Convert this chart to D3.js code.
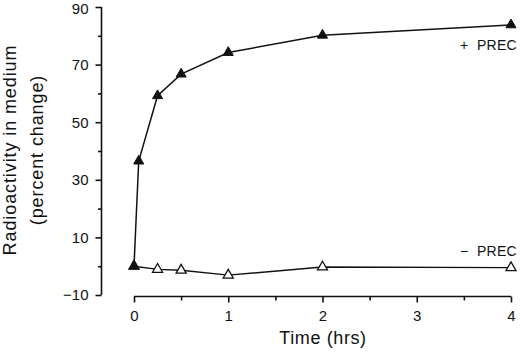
<!DOCTYPE html>
<html><head><meta charset="utf-8">
<script src="https://cdn.jsdelivr.net/npm/d3@7"></script>
<style>
html,body{margin:0;padding:0;background:#fff;}
text{font-family:"Liberation Sans",Arial,Helvetica,sans-serif;fill:#111;}
</style></head>
<body><svg id="c" width="520" height="356"></svg>
<script>
// Data (time in hours, percent change)
const timesPlus = [0, 0.05, 0.25, 0.5, 1, 2, 4];
const valuesPlus = [0, 36.5, 59.2, 66.7, 74.2, 80.2, 83.8];
const timesMinus = [0, 0.25, 0.5, 1, 2, 4];
const valuesMinus = [0, -1.1, -1.4, -3.1, -0.3, -0.5];
const xTicks = [0, 1, 2, 3, 4];
const xMinorTicks = [0.5, 1.5, 2.5, 3.5];
const yTicks = [-10, 10, 30, 50, 70, 90];
const yMinorTicks = [0, 20, 40, 60, 80];
const seriesLabels = ["+  PREC", "\u2212  PREC"];

const svg = d3.select("#c");
const x = d3.scaleLinear().domain([0, 4]).range([134, 511]);
const y = d3.scaleLinear().domain([-10, 90]).range([295, 7]);
const axisX = 101.5, axisY = 296.5;

// Y axis
const gy = svg.append("g").attr("transform", `translate(${axisX},0)`);
gy.call(d3.axisLeft(y).tickValues(yTicks).tickSize(6).tickPadding(7)
  .tickFormat(d => d < 0 ? "\u2212" + Math.abs(d) : d));
gy.append("g").call(d3.axisLeft(y).tickValues(yMinorTicks).tickSize(3.5).tickFormat(""))
  .select(".domain").remove();
gy.selectAll(".domain").attr("d", `M0,${y(90)}V${y(-10)}`);
gy.selectAll(".tick text").filter(d => d === 90).attr("dy", "0.46em");

// X axis
const gx = svg.append("g").attr("transform", `translate(0,${axisY})`);
gx.call(d3.axisBottom(x).tickValues(xTicks).tickSize(6).tickPadding(8).tickFormat(d3.format("d")));
gx.append("g").call(d3.axisBottom(x).tickValues(xMinorTicks).tickSize(4).tickFormat(""))
  .select(".domain").remove();
gx.selectAll(".domain").attr("d", `M${x(0)},0H${x(4)}`);

svg.selectAll(".domain, .tick line").attr("stroke", "#111").attr("stroke-width", 1.6);
svg.selectAll(".tick text").attr("font-size", 15).attr("fill", "#111")
  .style("font-family", '"Liberation Sans",Arial,sans-serif');

// Axis titles
svg.append("text").attr("transform", "translate(323,344)").attr("text-anchor", "middle")
  .attr("font-size", 18).attr("letter-spacing", 0.6).text("Time  (hrs)");
const ty = svg.append("text").attr("transform", "translate(0,150) rotate(-90)")
  .attr("text-anchor", "middle").attr("font-size", 18).attr("letter-spacing", 0.9);
ty.append("tspan").attr("x", 0).attr("y", 16).text("Radioactivity in medium");
ty.append("tspan").attr("x", 0).attr("y", 43).text("(percent change)");

// Lines
const plus = timesPlus.map((t, i) => [t, valuesPlus[i]]);
const minus = timesMinus.map((t, i) => [t, valuesMinus[i]]);
const line = d3.line().x(d => x(d[0])).y(d => y(d[1]));
svg.append("path").datum(minus).attr("d", line).attr("fill", "none").attr("stroke", "#111").attr("stroke-width", 1.4);
svg.append("path").datum(plus).attr("d", line).attr("fill", "none").attr("stroke", "#111").attr("stroke-width", 1.5);

const tri = d3.symbol().type(d3.symbolTriangle).size(44);
svg.selectAll(".om").data(minus).join("path").attr("class", "om")
  .attr("transform", d => `translate(${x(d[0])},${y(d[1])})`).attr("d", tri)
  .attr("fill", "#fff").attr("stroke", "#111").attr("stroke-width", 1.3);
svg.selectAll(".fp").data(plus).join("path").attr("class", "fp")
  .attr("transform", d => `translate(${x(d[0])},${y(d[1])})`).attr("d", tri)
  .attr("fill", "#111").attr("stroke", "#111").attr("stroke-width", 1);

// Series labels
svg.append("text").attr("x", 517).attr("y", 50).attr("text-anchor", "end")
  .attr("font-size", 14).attr("letter-spacing", 0.3).style("white-space", "pre").text(seriesLabels[0]);
svg.append("text").attr("x", 517).attr("y", 256).attr("text-anchor", "end")
  .attr("font-size", 14).attr("letter-spacing", 0.3).style("white-space", "pre").text(seriesLabels[1]);
</script></body></html>
